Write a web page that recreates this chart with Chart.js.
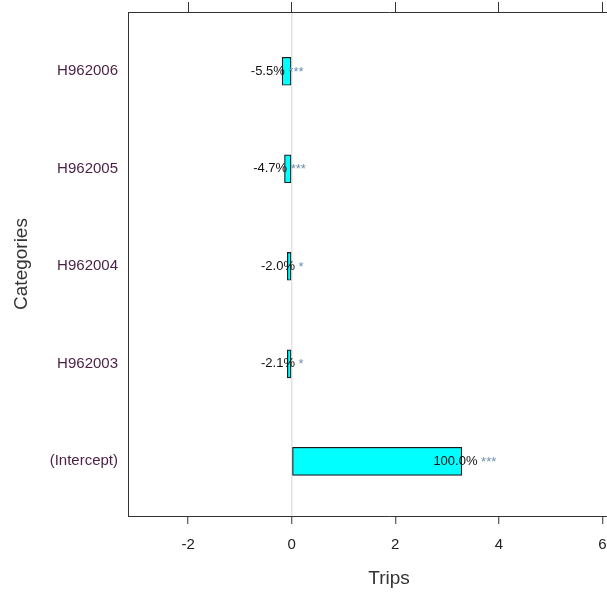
<!DOCTYPE html>
<html>
<head>
<meta charset="utf-8">
<script src="https://cdn.jsdelivr.net/npm/chart.js@4/dist/chart.umd.min.js"></script>
<style>
  html, body { margin: 0; padding: 0; background: #fff; overflow: hidden; }
  #wrap { width: 607px; height: 594px; overflow: hidden; position: relative; }
  canvas { display: block; }
</style>
</head>
<body>
<div id="wrap"><canvas id="c" width="660" height="594"></canvas></div>
<script>
// ---- data ----
const categories = ["(Intercept)", "H962003", "H962004", "H962005", "H962006"];
const positions = [1, 2, 3, 4, 5];
const values = [3.285, -0.085, -0.085, -0.14, -0.185];
const pctLabels = ["100.0%", "-2.1%", "-2.0%", "-4.7%", "-5.5%"];
const starLabels = ["***", "*", "*", "***", "***"];
const xTickValues = [-2, 0, 2, 4, 6];

const FONT = "'Liberation Sans', Arial, sans-serif";

const barLabels = {
  id: 'barLabels',
  afterDatasetsDraw(chart) {
    const xs = chart.scales.x, ys = chart.scales.y;
    const ctx = chart.ctx;
    ctx.save();
    ctx.font = "13px " + FONT;
    ctx.textBaseline = 'middle';
    ctx.textAlign = 'left';
    values.forEach((v, i) => {
      const px = xs.getPixelForValue(v) + (v < 0 ? -5 : 3);
      const py = ys.getPixelForValue(positions[i]);
      const a = pctLabels[i], b = " " + starLabels[i];
      const wa = ctx.measureText(a).width, wb = ctx.measureText(b).width;
      const x0 = px - (wa + wb) / 2;
      ctx.fillStyle = '#111111';
      ctx.fillText(a, x0, py);
      ctx.fillStyle = '#6f8fae';
      ctx.fillText(b, x0 + wa, py + 1);
    });
    ctx.restore();
  }
};

const noPadH = s => { s.paddingLeft = 0; s.paddingRight = 0; };

new Chart(document.getElementById('c'), {
  type: 'bar',
  data: {
    datasets: [{
      data: values.map((v, i) => ({ x: v, y: positions[i] })),
      backgroundColor: '#00ffff',
      borderColor: '#1a1a1a',
      borderWidth: 1.2,
      borderSkipped: false,
      barThickness: 28
    }]
  },
  options: {
    indexAxis: 'y',
    responsive: false,
    animation: false,
    layout: { padding: { left: 0, right: 10, top: 0, bottom: 0 } },
    plugins: { legend: { display: false }, tooltip: { enabled: false } },
    scales: {
      x: {
        type: 'linear',
        position: 'bottom',
        offset: false,
        min: -3.163,
        max: 6.92,
        afterBuildTicks: s => { s.ticks = xTickValues.map(v => ({ value: v })); },
        afterFit: s => { s.height = 78; noPadH(s); },
        grid: {
          color: c => (c.tick && c.tick.value === 0) ? '#e4e4e4' : 'rgba(0,0,0,0)',
          lineWidth: 1.5,
          drawTicks: true,
          tickLength: 8,
          tickColor: '#333333',
          tickWidth: 1
        },
        border: { display: true, color: '#333333', width: 1 },
        ticks: { color: '#222222', font: { family: FONT, size: 15 }, padding: 12 },
        title: {
          display: true, text: 'Trips', color: '#333333',
          font: { family: FONT, size: 19 }, padding: { top: 6, bottom: 4 }
        }
      },
      x2: {
        type: 'linear',
        position: 'top',
        offset: false,
        min: -3.163,
        max: 6.92,
        afterBuildTicks: s => { s.ticks = xTickValues.map(v => ({ value: v })); },
        afterFit: s => { s.height = 12; noPadH(s); },
        grid: {
          drawOnChartArea: false,
          drawTicks: true,
          tickLength: 10,
          tickColor: '#333333',
          color: '#333333'
        },
        border: { display: true, color: '#333333', width: 1 },
        ticks: { display: false }
      },
      y: {
        type: 'linear',
        position: 'left',
        offset: false,
        min: 0.439,
        max: 5.608,
        afterBuildTicks: s => { s.ticks = positions.map(v => ({ value: v })); },
        afterFit: s => { s.width = 128; s.paddingTop = 0; s.paddingBottom = 0; },
        grid: { display: true, offset: false, drawOnChartArea: false, drawTicks: false, color: 'rgba(0,0,0,0)' },
        border: { display: true, color: '#333333', width: 1 },
        ticks: {
          color: '#4a1f45',
          font: { family: FONT, size: 15 },
          padding: 10,
          callback: v => categories[positions.indexOf(v)]
        },
        title: {
          display: true, text: 'Categories', color: '#333333',
          font: { family: FONT, size: 19 }, padding: { top: 10, bottom: 4 }
        }
      }
    }
  },
  plugins: [barLabels]
});
</script>
</body>
</html>
